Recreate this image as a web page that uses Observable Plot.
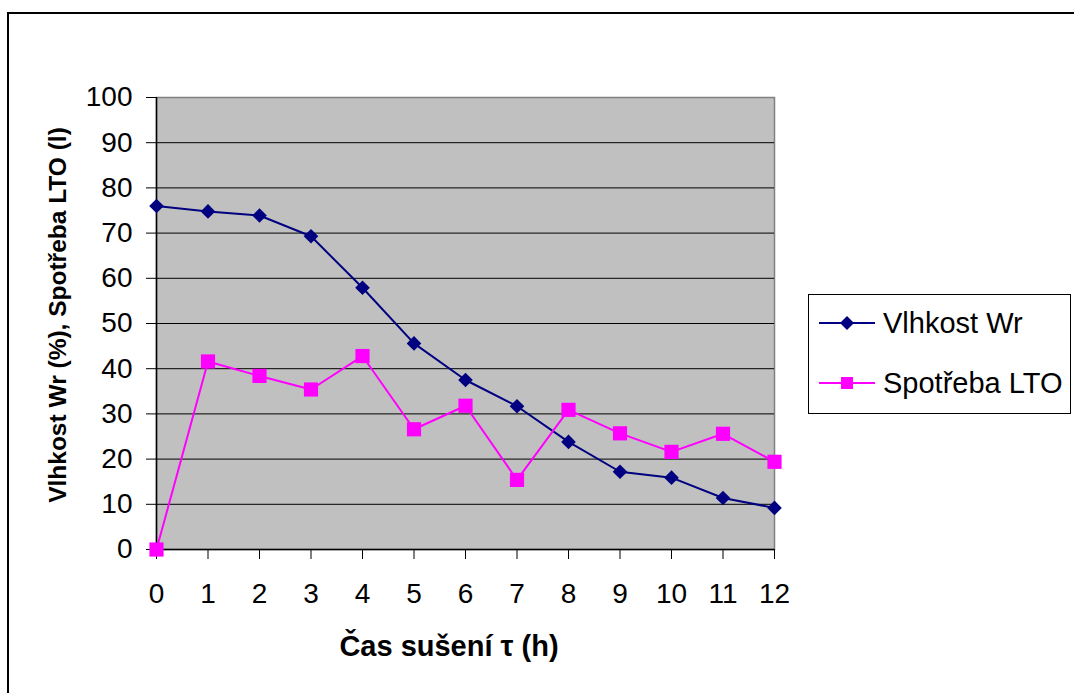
<!DOCTYPE html>
<html>
<head>
<meta charset="utf-8">
<script src="https://cdn.jsdelivr.net/npm/d3@7"></script>
<script src="https://cdn.jsdelivr.net/npm/@observablehq/plot@0.6"></script>
<style>
  html, body { margin: 0; padding: 0; background: #fff; }
  #wrap { position: relative; width: 1074px; height: 693px; overflow: hidden; font-family: "Liberation Sans", Arial, sans-serif; }
  #frame { position: absolute; left: 7px; top: 12px; width: 1200px; height: 800px; border-left: 2px solid #000; border-top: 2px solid #000; box-sizing: border-box; }
  #chart { position: absolute; left: 0; top: 0; }
  .title { position: absolute; font-weight: bold; white-space: nowrap; color: #000; }
  #xtitle { left: 449px; top: 646px; font-size: 29px; transform: translate(-50%, -50%); }
  #ytitle { left: 58px; top: 315px; font-size: 24.5px; transform: translate(-50%, -50%) rotate(-90deg); }
  #legend { position: absolute; left: 808px; top: 294px; width: 263px; height: 120px; box-sizing: border-box; border: 1px solid #000; background: #fff; }
  .lrow { position: absolute; left: 10px; height: 34px; display: flex; align-items: center; font-size: 29px; white-space: nowrap; }
  .lrow svg { margin-right: 8px; }
</style>
</head>
<body>
<div id="wrap">
  <div id="frame"></div>
  <div id="chart"></div>
  <div class="title" id="xtitle">Čas sušení τ (h)</div>
  <div class="title" id="ytitle">Vlhkost Wr (%), Spotřeba LTO (l)</div>
  <div id="legend"></div>
</div>
<script>
const hours = [0, 1, 2, 3, 4, 5, 6, 7, 8, 9, 10, 11, 12];
const vlhkost = [76.0, 74.8, 73.9, 69.3, 57.9, 45.6, 37.5, 31.7, 23.8, 17.2, 15.9, 11.4, 9.2];
const spotreba = [0, 41.6, 38.4, 35.4, 42.8, 26.6, 31.8, 15.4, 30.9, 25.7, 21.6, 25.6, 19.4];
const seriesNames = ["Vlhkost Wr", "Spotřeba LTO"];
const seriesColors = ["#000080", "#FF00FF"];
const yTicks = [0, 10, 20, 30, 40, 50, 60, 70, 80, 90, 100];
const xTicks = hours;

const dataV = hours.map((h, i) => ({h, v: vlhkost[i]}));
const dataS = hours.map((h, i) => ({h, v: spotreba[i]}));

const chart = Plot.plot({
  width: 1074,
  height: 693,
  marginLeft: 156,
  marginRight: 300,
  marginTop: 97,
  marginBottom: 144,
  x: {domain: [0, 12]},
  y: {domain: [0, 100]},
  style: {fontFamily: "'Liberation Sans', Arial, sans-serif", color: "#000", background: "transparent", overflow: "visible"},
  marks: [
    Plot.frame({fill: "#C0C0C0", stroke: "#808080", strokeWidth: 1.5}),
    Plot.ruleY(yTicks.filter(d => d > 0 && d < 100), {stroke: "#000", strokeWidth: 1}),
    Plot.ruleY([0], {stroke: "#000", strokeWidth: 1.5}),
    Plot.ruleX([0], {stroke: "#000", strokeWidth: 1.5}),
    Plot.axisY({ticks: yTicks, tickSize: 10, tickPadding: 14, label: null, fontSize: 28, strokeWidth: 1}),
    Plot.axisX({ticks: xTicks, tickSize: 10, tickPadding: 24, label: null, fontSize: 28, strokeWidth: 1}),
    Plot.line(dataV, {x: "h", y: "v", stroke: seriesColors[0], strokeWidth: 2}),
    Plot.line(dataS, {x: "h", y: "v", stroke: seriesColors[1], strokeWidth: 2}),
    Plot.dot(dataV, {x: "h", y: "v", symbol: "diamond2", r: 6.6, fill: seriesColors[0], stroke: "none"}),
    Plot.dot(dataS, {x: "h", y: "v", symbol: "square", r: 8, fill: seriesColors[1], stroke: "none"})
  ]
});
document.getElementById("chart").appendChild(chart);

// legend
const legend = document.getElementById("legend");
const tops = [11, 71];
seriesNames.forEach((name, i) => {
  const row = document.createElement("div");
  row.className = "lrow";
  row.style.top = tops[i] + "px";
  const marker = i === 0
    ? `<polygon points="28,10 35,17 28,24 21,17" fill="${seriesColors[0]}"/>`
    : `<rect x="22" y="11" width="12" height="12" fill="${seriesColors[1]}"/>`;
  row.innerHTML = `<svg width="56" height="34"><line x1="0" y1="17" x2="56" y2="17" stroke="${seriesColors[i]}" stroke-width="2"/>${marker}</svg><span>${name}</span>`;
  legend.appendChild(row);
});
</script>
</body>
</html>
